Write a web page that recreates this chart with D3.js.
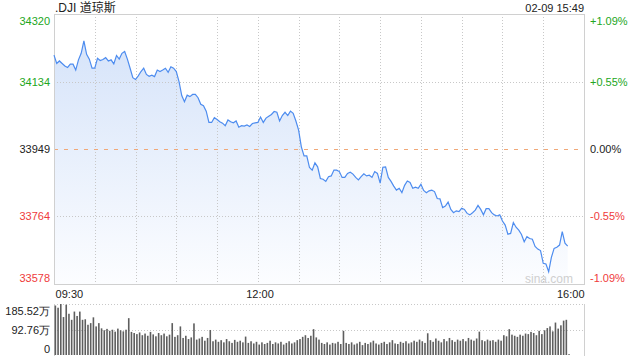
<!DOCTYPE html>
<html>
<head>
<meta charset="utf-8">
<script src="https://cdn.jsdelivr.net/npm/d3@7"></script>
<style>
	body { margin: 0; background: #fff; }
	svg { display: block; font-family: "Liberation Sans", Arial, "Noto Sans CJK SC", sans-serif; }
</style>
</head>
<body>
<main></main>
<script>

// DATA
const title = ".DJI 道琼斯";
const stamp = "02-09 15:49";
const prevClose = 33949;
// price every 2 minutes from 09:30
const prices = [
	34207, 34184, 34191, 34184, 34177, 34173, 34182, 34182, 34166, 34194,
	34212, 34246, 34209, 34196, 34171, 34171, 34198, 34192, 34195, 34200,
	34191, 34194, 34183, 34206, 34196, 34212, 34217, 34196, 34171, 34145,
	34140, 34150, 34162, 34171, 34154, 34149, 34152, 34148, 34166, 34162,
	34166, 34171, 34160, 34175, 34171, 34162, 34134, 34096, 34079, 34097,
	34093, 34099, 34099, 34090, 34072, 34068, 34053, 34022, 34022, 34035,
	34030, 34024, 34020, 34013, 34029, 34024, 34021, 34026, 34009, 34013,
	34012, 34015, 34011, 34019, 34021, 34022, 34037, 34022, 34034, 34039,
	34044, 34052, 34050, 34026, 34041, 34050, 34041, 34053, 34047, 34026,
	34001, 33955, 33930, 33930, 33898, 33891, 33911, 33900, 33868, 33866,
	33860, 33873, 33875, 33891, 33891, 33887, 33871, 33871, 33882, 33885,
	33880, 33871, 33864, 33873, 33881, 33875, 33877, 33871, 33887, 33882,
	33855, 33899, 33900, 33871, 33860, 33847, 33836, 33841, 33829, 33849,
	33861, 33857, 33841, 33844, 33841, 33852, 33835, 33829, 33834, 33836,
	33832, 33813, 33812, 33788, 33792, 33803, 33783, 33774, 33779, 33777,
	33786, 33783, 33772, 33768, 33774, 33781, 33794, 33783, 33768, 33785,
	33785, 33774, 33768, 33765, 33768, 33751, 33740, 33715, 33717, 33747,
	33734, 33726, 33714, 33694, 33708, 33703, 33701, 33681, 33674, 33670,
	33635, 33633, 33612, 33651, 33676, 33679, 33685, 33722, 33690, 33682
];
// volume every 2 minutes, in 万
const volumes = [
	180, 172, 185.5, 138, 183, 150, 128, 158, 142, 158,
	128, 130, 110, 116, 137, 104, 116, 97, 90, 95,
	88, 92, 85, 96, 90, 86, 92, 134, 84, 80,
	76, 82, 72, 78, 70, 84, 75, 68, 80, 72,
	78, 68, 74, 116, 66, 72, 104, 62, 70, 58,
	64, 115, 56, 60, 66, 52, 62, 91, 50, 56,
	48, 54, 46, 58, 50, 44, 55, 48, 52, 46,
	67, 44, 50, 42, 48, 38, 46, 40, 44, 52,
	40, 46, 42, 48, 38, 44, 50, 42, 46, 54,
	58, 66, 72, 62, 70, 94, 64, 56, 44, 40,
	46, 38, 44, 42, 48, 40, 88, 44, 40, 46,
	38, 42, 48, 36, 44, 40, 46, 52, 42, 38,
	44, 48, 40, 46, 54, 42, 40, 48, 44, 50,
	42, 46, 52, 48, 56, 50, 44, 79, 54, 48,
	60, 52, 46, 58, 50, 62, 54, 48, 56, 52,
	58, 50, 62, 56, 52, 60, 85, 54, 50, 56,
	52, 54, 48, 56, 52, 72, 68, 94, 74, 70,
	66, 74, 70, 78, 76, 84, 80, 72, 88, 76,
	90, 98, 104, 86, 118, 96, 108, 125, 128, 3
];
const priceTicks = [34320, 34134, 33949, 33764, 33578];
const pctTicks = ["+1.09%", "+0.55%", "0.00%", "-0.55%", "-1.09%"];
const timeTicks = [0, 150, 390];
const timeLabels = ["09:30", "12:00", "16:00"];
const volTicks = [185.52, 92.76, 0];
const volLabels = ["185.52万", "92.76万", "0"];



// CHART
const w = 640;
const h = 360;
const plotL = 54;
const plotR = 584;
const plotT = 14;
const plotB = 284;
const volT = 304;
const volB = 355;
const green = "#22a622";
const red = "#ef3b3b";
const grid = "#c8c8c8";

const svg = d3.select("main").append("svg")
	.attr("width", w)
	.attr("height", h);

// scales
const xScale = d3.scaleLinear().domain([0, 390]).range([plotL, plotR]);
const yScale = d3.scaleLinear().domain([33578, 34320]).range([plotB, plotT]);
const vScale = d3.scaleLinear().domain([0, 185.52]).range([volB, volT]);
const tickColor = p => p > prevClose ? green : (p < prevClose ? red : "#222");
const endDy = (i, n) => i == 0 ? "0.95em" : (i == n - 1 ? "-0.25em" : "0.32em");

// gradient for the area
const grad = svg.append("defs").append("linearGradient")
	.attr("id", "fill")
	.attr("gradientUnits", "userSpaceOnUse")
	.attr("x1", 0).attr("x2", 0)
	.attr("y1", plotT).attr("y2", plotB);
grad.append("stop").attr("offset", 0).attr("stop-color", "#d2e1f9");
grad.append("stop").attr("offset", 1).attr("stop-color", "#fcfdff");

// area
const area = d3.area()
	.x((d, i) => xScale(i * 2))
	.y0(plotB)
	.y1(d => yScale(d));
svg.append("path")
	.datum(prices)
	.attr("d", area)
	.attr("fill", "url(#fill)");

// vertical grid every 30 min
svg.append("g")
	.selectAll("line")
	.data(d3.range(30, 390, 30))
	.enter()
	.append("line")
		.attr("x1", d => Math.round(xScale(d)) + 0.5)
		.attr("x2", d => Math.round(xScale(d)) + 0.5)
		.attr("y1", plotT)
		.attr("y2", plotB)
		.attr("stroke", grid)
		.attr("stroke-dasharray", "1,2");

// horizontal grid
svg.append("g")
	.selectAll("line")
	.data([priceTicks[1], priceTicks[3]])
	.enter()
	.append("line")
		.attr("x1", plotL)
		.attr("x2", plotR)
		.attr("y1", d => Math.round(yScale(d)) + 0.5)
		.attr("y2", d => Math.round(yScale(d)) + 0.5)
		.attr("stroke", grid)
		.attr("stroke-dasharray", "1,2");
svg.append("line")
	.attr("x1", plotL)
	.attr("x2", plotR)
	.attr("y1", Math.round(yScale(prevClose)) + 0.5)
	.attr("y2", Math.round(yScale(prevClose)) + 0.5)
	.attr("stroke", "#f0a878")
	.attr("stroke-dasharray", "4,6");

// frame
svg.append("rect")
	.attr("x", plotL + 0.5)
	.attr("y", plotT + 0.5)
	.attr("width", plotR - plotL)
	.attr("height", plotB - plotT)
	.attr("fill", "none")
	.attr("stroke", "#d0d0d0");

// watermark
svg.append("text")
	.attr("x", 573)
	.attr("y", 283)
	.attr("text-anchor", "end")
	.attr("font-size", 12)
	.attr("fill", "#cfcfcf")
	.text("sina.com");

// price line
const line = d3.line()
	.x((d, i) => xScale(i * 2))
	.y(d => yScale(d));
svg.append("path")
	.datum(prices)
	.attr("d", line)
	.attr("fill", "none")
	.attr("stroke", "#4d8cef")
	.attr("stroke-width", 1.2);

// left axis
const yAxis = d3.axisLeft(yScale).tickValues(priceTicks).tickSize(0).tickPadding(4)
	.tickFormat(d3.format("d"));
const gy = svg.append("g")
	.attr("transform", `translate(${plotL}, 0)`)
	.call(yAxis);
gy.select(".domain").remove();
gy.selectAll("text")
	.attr("font-size", 11)
	.attr("font-family", null)
	.attr("fill", d => tickColor(d))
	.attr("dy", (d, i) => endDy(i, priceTicks.length));

// right axis
const yAxisR = d3.axisRight(yScale).tickValues(priceTicks).tickSize(0).tickPadding(6)
	.tickFormat((d, i) => pctTicks[i]);
const gyr = svg.append("g")
	.attr("transform", `translate(${plotR}, 0)`)
	.call(yAxisR);
gyr.select(".domain").remove();
gyr.selectAll("text")
	.attr("font-size", 11)
	.attr("font-family", null)
	.attr("fill", d => tickColor(d))
	.attr("dy", (d, i) => endDy(i, priceTicks.length));

// time axis
const xAxis = d3.axisBottom(xScale).tickValues(timeTicks).tickSize(0).tickPadding(6)
	.tickFormat((d, i) => timeLabels[i]);
const gx = svg.append("g")
	.attr("transform", `translate(0, ${plotB})`)
	.call(xAxis);
gx.select(".domain").remove();
gx.selectAll("text")
	.attr("font-size", 11)
	.attr("font-family", null)
	.attr("fill", "#222")
	.attr("text-anchor", (d, i) => i == 0 ? "start" : (i == timeTicks.length - 1 ? "end" : "middle"))
	.attr("dx", (d, i) => i == 1 ? "0.15em" : (i == 0 ? "0.1em" : 0));

// title and time stamp
svg.append("text")
	.attr("x", 55)
	.attr("y", 12)
	.attr("font-size", 12)
	.attr("fill", "#222")
	.text(title);
svg.append("text")
	.attr("x", plotR)
	.attr("y", 12)
	.attr("text-anchor", "end")
	.attr("font-size", 11)
	.attr("fill", "#222")
	.text(stamp);

// VOLUME
svg.append("g")
	.selectAll("line")
	.data(volTicks.slice(0, 2))
	.enter()
	.append("line")
		.attr("x1", plotL)
		.attr("x2", plotR)
		.attr("y1", d => Math.round(vScale(d)) + 0.5)
		.attr("y2", d => Math.round(vScale(d)) + 0.5)
		.attr("stroke", grid)
		.attr("stroke-dasharray", "1,2");
svg.append("g")
	.selectAll("line")
	.data([plotL, plotR])
	.enter()
	.append("line")
		.attr("x1", d => d + 0.5)
		.attr("x2", d => d + 0.5)
		.attr("y1", volT)
		.attr("y2", volB + 1)
		.attr("stroke", "#d0d0d0");

svg.append("g")
	.selectAll("rect")
	.data(volumes)
	.enter()
	.append("rect")
		.attr("x", (d, i) => xScale(i * 2 + 1) - 0.8)
		.attr("y", d => vScale(d))
		.attr("width", 1.6)
		.attr("height", d => volB - vScale(d))
		.attr("fill", "#5e5e5e");

const vAxis = d3.axisLeft(vScale).tickValues(volTicks).tickSize(0).tickPadding(4)
	.tickFormat((d, i) => volLabels[i]);
const gv = svg.append("g")
	.attr("transform", `translate(${plotL}, 0)`)
	.call(vAxis);
gv.select(".domain").remove();
gv.selectAll("text")
	.attr("font-size", 11)
	.attr("font-family", null)
	.attr("fill", "#222")
	.attr("dy", (d, i) => endDy(i, volTicks.length));

</script>
</body>
</html>
